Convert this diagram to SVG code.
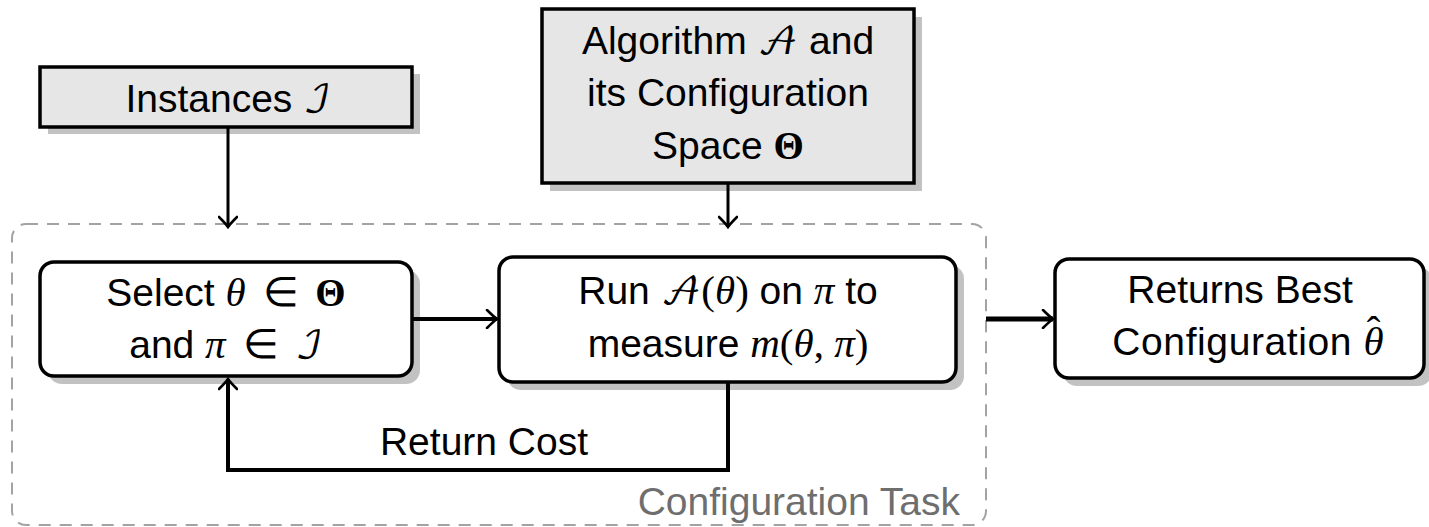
<svg xmlns="http://www.w3.org/2000/svg" width="1429" height="527" viewBox="0 0 1429 527">
  <style>
    .lbl { font-family: "Liberation Sans", Arial, sans-serif; font-size: 39px; fill: #000; }
    .mi { font-family: "Liberation Serif", "Times New Roman", serif; font-style: italic; font-size: 41px; }
    .mr { font-family: "Liberation Serif", "Times New Roman", serif; font-size: 41px; }
    .mb { font-family: "Liberation Serif", "Times New Roman", serif; font-weight: bold; font-size: 39px; }
    .cal { font-family: "DejaVu Math TeX Gyre", "DejaVu Serif", "Noto Sans", serif; font-size: 38px; }
    .shadow { fill: #c2c2c2; }
    .input { fill: #e6e6e6; stroke: #000; stroke-width: 3.5; }
    .step { fill: #fff; stroke: #000; stroke-width: 3.5; }
    .task { fill: none; stroke: #a3a3a3; stroke-width: 2; stroke-dasharray: 12 9; }
    .tasklbl { font-family: "Liberation Sans", Arial, sans-serif; font-size: 39px; fill: #6e6e6e; }
    .edge { fill: none; stroke: #000; stroke-linejoin: miter; }
  </style>
  <defs>
    <marker id="tip" viewBox="-12 -10 14 20" refX="0" refY="0" markerWidth="14" markerHeight="20" markerUnits="userSpaceOnUse" orient="auto">
      <path d="M -10,-9 Q -3,-2 0,0 Q -3,2 -10,9" fill="none" stroke="#000" stroke-width="2.6" stroke-linecap="round"/>
    </marker>
  </defs>

  <!-- configuration task frame -->
  <g id="configuration-task">
    <rect class="task" x="12" y="224" width="974" height="301" rx="14"/>
    <text class="tasklbl" x="960" y="515" text-anchor="end">Configuration Task</text>
  </g>

  <!-- inputs -->
  <g id="instances">
    <rect class="shadow" x="48" y="74" width="372" height="60"/>
    <rect class="input" x="40" y="67" width="372" height="60"/>
    <text class="lbl" x="228" y="112" text-anchor="middle">Instances <tspan class="cal">ℐ</tspan></text>
  </g>

  <g id="algorithm">
    <rect class="shadow" x="550" y="17" width="372" height="174"/>
    <rect class="input" x="542" y="9" width="372" height="174"/>
    <text class="lbl" x="728" y="54" text-anchor="middle">Algorithm <tspan class="cal">𝒜</tspan> and</text>
    <text class="lbl" x="728" y="106" text-anchor="middle">its Configuration</text>
    <text class="lbl" x="728" y="159" text-anchor="middle">Space <tspan class="mb">Θ</tspan></text>
  </g>

  <!-- process steps -->
  <g id="select">
    <rect class="shadow" x="48" y="270" width="372" height="114" rx="14"/>
    <rect class="step" x="40" y="262" width="372" height="114" rx="14"/>
    <text class="lbl" x="226" y="306" text-anchor="middle">Select <tspan class="mi">θ</tspan> <tspan class="mr" dx="6">∈</tspan> <tspan class="mb" dx="6">Θ</tspan></text>
    <text class="lbl" x="226" y="358" text-anchor="middle">and <tspan class="mi">π</tspan> <tspan class="mr" dx="6">∈</tspan> <tspan class="cal" dx="6">ℐ</tspan></text>
  </g>

  <g id="run">
    <rect class="shadow" x="507" y="265" width="457" height="125" rx="14"/>
    <rect class="step" x="499" y="257" width="457" height="125" rx="14"/>
    <text class="lbl" x="728" y="304" text-anchor="middle">Run <tspan class="cal">𝒜</tspan><tspan class="mr">(</tspan><tspan class="mi">θ</tspan><tspan class="mr">)</tspan> on <tspan class="mi">π</tspan> to</text>
    <text class="lbl" x="728" y="357" text-anchor="middle">measure <tspan class="mi">m</tspan><tspan class="mr">(</tspan><tspan class="mi">θ</tspan><tspan class="mr">, </tspan><tspan class="mi">π</tspan><tspan class="mr">)</tspan></text>
  </g>

  <g id="result">
    <rect class="shadow" x="1063" y="267" width="369" height="119" rx="14"/>
    <rect class="step" x="1055" y="259" width="369" height="119" rx="14"/>
    <text class="lbl" x="1240" y="303" text-anchor="middle">Returns Best</text>
    <text class="lbl" x="1248" y="355" text-anchor="middle" letter-spacing="0.6">Configuration <tspan class="mi" letter-spacing="0">θ</tspan><tspan class="mr" letter-spacing="0" dx="-17" dy="-11">ˆ</tspan></text>
  </g>

  <!-- connectors -->
  <g id="connectors">
    <path class="edge" d="M 228,127 V 227" stroke-width="3" marker-end="url(#tip)"/>
    <path class="edge" d="M 728,183 V 227" stroke-width="3" marker-end="url(#tip)"/>
    <path class="edge" d="M 412,319 H 497" stroke-width="4" marker-end="url(#tip)"/>
    <path class="edge" d="M 986,319 H 1053" stroke-width="5" marker-end="url(#tip)"/>
    <path class="edge" d="M 728,382 V 470 H 228 V 379" stroke-width="4" marker-end="url(#tip)"/>
    <text class="lbl" x="484" y="455" text-anchor="middle">Return Cost</text>
  </g>
</svg>
